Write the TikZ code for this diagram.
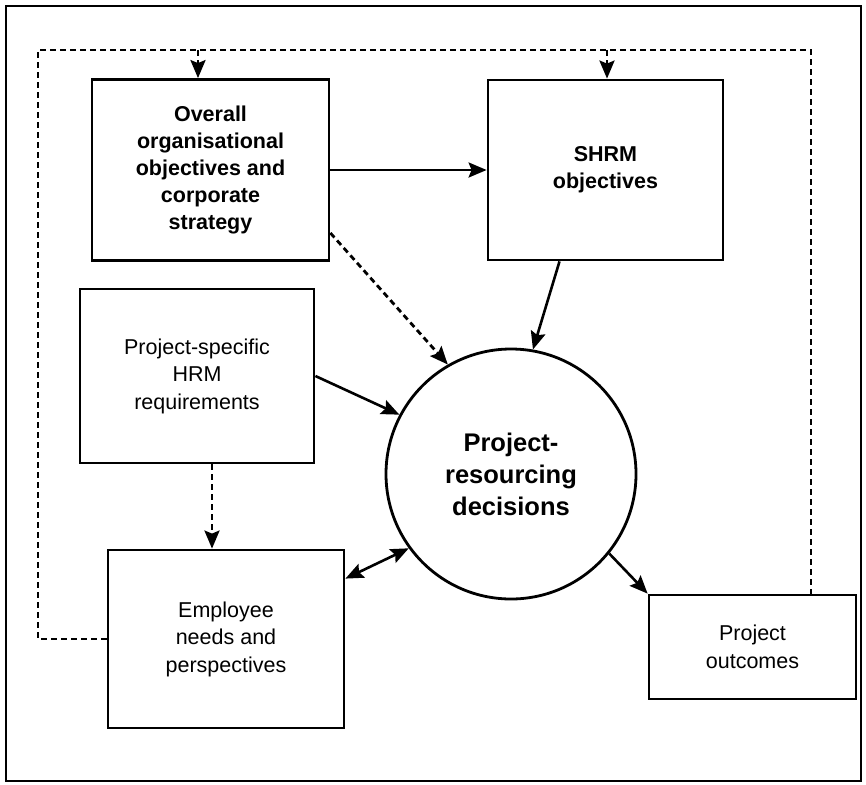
\documentclass[tikz,border=0pt]{standalone}
\usepackage{fontspec}
\setmainfont{Liberation Sans}
\usetikzlibrary{arrows.meta}
\begin{document}
\begin{tikzpicture}[x=1pt,y=-1pt,
  headtip/.style={-{Stealth[length=18pt,width=15pt,inset=3pt]}},
  box/.style={draw,line width=2.8pt,align=center,inner sep=0pt},
  boldtxt/.style={font=\fontsize{21.5}{27}\selectfont\bfseries},
  plaintxt/.style={font=\fontsize{21.5}{27.5}\selectfont},
  link/.style={line width=2.6pt,headtip},
  dotline/.style={line width=2.8pt,dash pattern=on 6pt off 4pt},
  dotlink/.style={dotline,headtip},
  twoway/.style={line width=2.6pt,{Stealth[length=18pt,width=15pt,inset=3pt]}-{Stealth[length=18pt,width=15pt,inset=3pt]}}
]
\useasboundingbox (0,0) rectangle (866,784);
\draw[line width=2.6pt] (6,6) rectangle (861,781);

% boxes
\node[box,boldtxt,minimum width=237pt,minimum height=181pt] (obj) at (210.5,170)
  {Overall\\organisational\\objectives and\\corporate\\strategy};
\node[box,boldtxt,minimum width=235pt,minimum height=180pt] (shrm) at (605.5,170)
  {SHRM\\objectives};
\node[box,plaintxt,minimum width=234pt,minimum height=174pt] (req) at (197,376)
  {Project-specific\\HRM\\requirements};
\node[box,plaintxt,minimum width=236pt,minimum height=178pt] (emp) at (226,639)
  {Employee\\needs and\\perspectives};
\node[box,plaintxt,minimum width=207pt,minimum height=104pt] (out) at (752.5,647)
  {Project\\outcomes};

% central decision circle
\node[draw,circle,line width=2.8pt,minimum size=250pt,inner sep=0pt,align=center,
  font=\fontsize{25.5}{32}\selectfont\bfseries] (dec) at (511,474)
  {Project-\\resourcing\\decisions};

% feedback loop
\coordinate (lc) at (38,50);
\coordinate (rc) at (811,50);
\coordinate (t1) at (198,50);
\coordinate (t2) at (607,50);
\coordinate (dx) at (212,0);
\draw[dotline] (emp.west) -| (lc) -- (rc) -- (rc |- out.north);
\draw[dotlink] (t1) -- (t1 |- obj.north);
\draw[dotlink] (t2) -- (t2 |- shrm.north);

% connectors
\draw[link] (obj) -- (shrm);
\draw[link] ([xshift=-46pt]shrm.south) -- (dec.80);
\draw[dotlink] ([yshift=-63pt]obj.east) -- (dec.120);
\draw[link] (req.east) -- (dec.152);
\draw[dotlink] (req.south -| dx) -- (emp.north -| dx);
\draw[twoway] ([yshift=-30pt]emp.north east) -- (dec.216);
\draw[link] (dec.-39) -- (out.north west);
\end{tikzpicture}
\end{document}
